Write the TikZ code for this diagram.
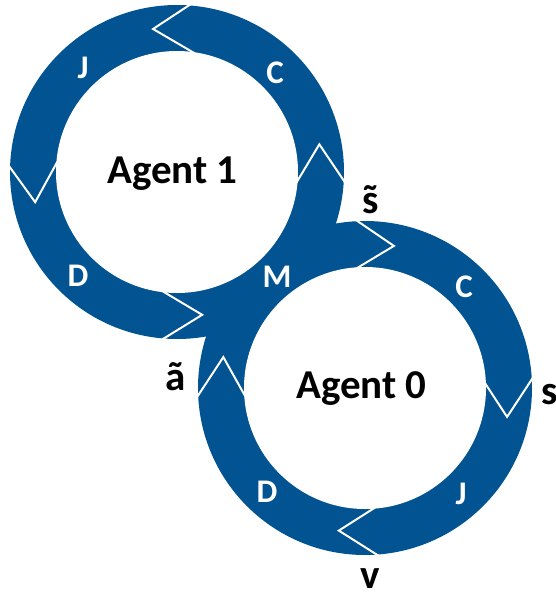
\documentclass[tikz,border=0pt]{standalone}
\usepackage{fontspec}
\setmainfont{Carlito}
\usetikzlibrary{calc}
\definecolor{ringblue}{RGB}{2,83,145}
\newcommand\tildeover[1]{\ooalign{#1\cr\hidewidth\char"02DC\hidewidth\cr}}
% #1 centre, #2 inner angle, #3 outer angle, #4 tip angle
\newcommand\chevronline[4]{\draw[chev] ($(#1)+(#2:120pt)$) -- ($(#1)+(#4:145pt)$) -- ($(#1)+(#3:168pt)$);}
\begin{document}
\begin{tikzpicture}[x=1pt,y=-1pt,
  big/.style={font=\fontsize{41}{41}\selectfont\bfseries, inner sep=0pt, anchor=base},
  phase/.style={font=\fontsize{33}{33}\selectfont\bfseries, text=white, inner sep=0pt, anchor=base},
  chev/.style={draw=white, line width=2pt, line join=miter}]
\useasboundingbox (0,0) rectangle (556,592);
\coordinate (c1) at (177,172);
\coordinate (c0) at (365,388);
% rings
\fill[ringblue] (c1) circle[radius=167pt];
\fill[ringblue] (c0) circle[radius=167pt];
\fill[white] (c1) circle[radius=121pt];
\fill[white] (c0) circle[radius=121pt];
% chevrons ring 1
\chevronline{c1}{81.5}{85.5}{99.5}
\chevronline{c1}{175}{178}{192}
\chevronline{c1}{263}{265}{280}
\chevronline{c1}{-5}{-3.4}{11}
% chevrons ring 0
\chevronline{c0}{94}{93}{78.5}
\chevronline{c0}{2.4}{3.4}{-11.5}
\chevronline{c0}{-85.2}{-85.5}{-100.4}
\chevronline{c0}{184}{183}{167.7}
% texts
\node[big] (a1) at (172.5,183) {Agent 1};
\node[big] (a0) at (361.5,398) {Agent 0};
\node[phase] (c1l) at (275,83) {C};
\node[phase] (j1l) at (83,78) {J};
\node[phase] (d1l) at (78,286) {D};
\node[phase] (ml) at (277,287) {M};
\node[phase] (c0l) at (464,297) {C};
\node[phase] (j0l) at (461,504) {J};
\node[phase] (d0l) at (267,502) {D};
\node[big] (st) at (371,213) {\tildeover{s}};
\node[big, anchor=base west] (sl) at (541,404) {s};
\node[big] (at) at (176,390) {ã};
\node[big] (vl) at (370,588) {v};
\end{tikzpicture}
\end{document}
